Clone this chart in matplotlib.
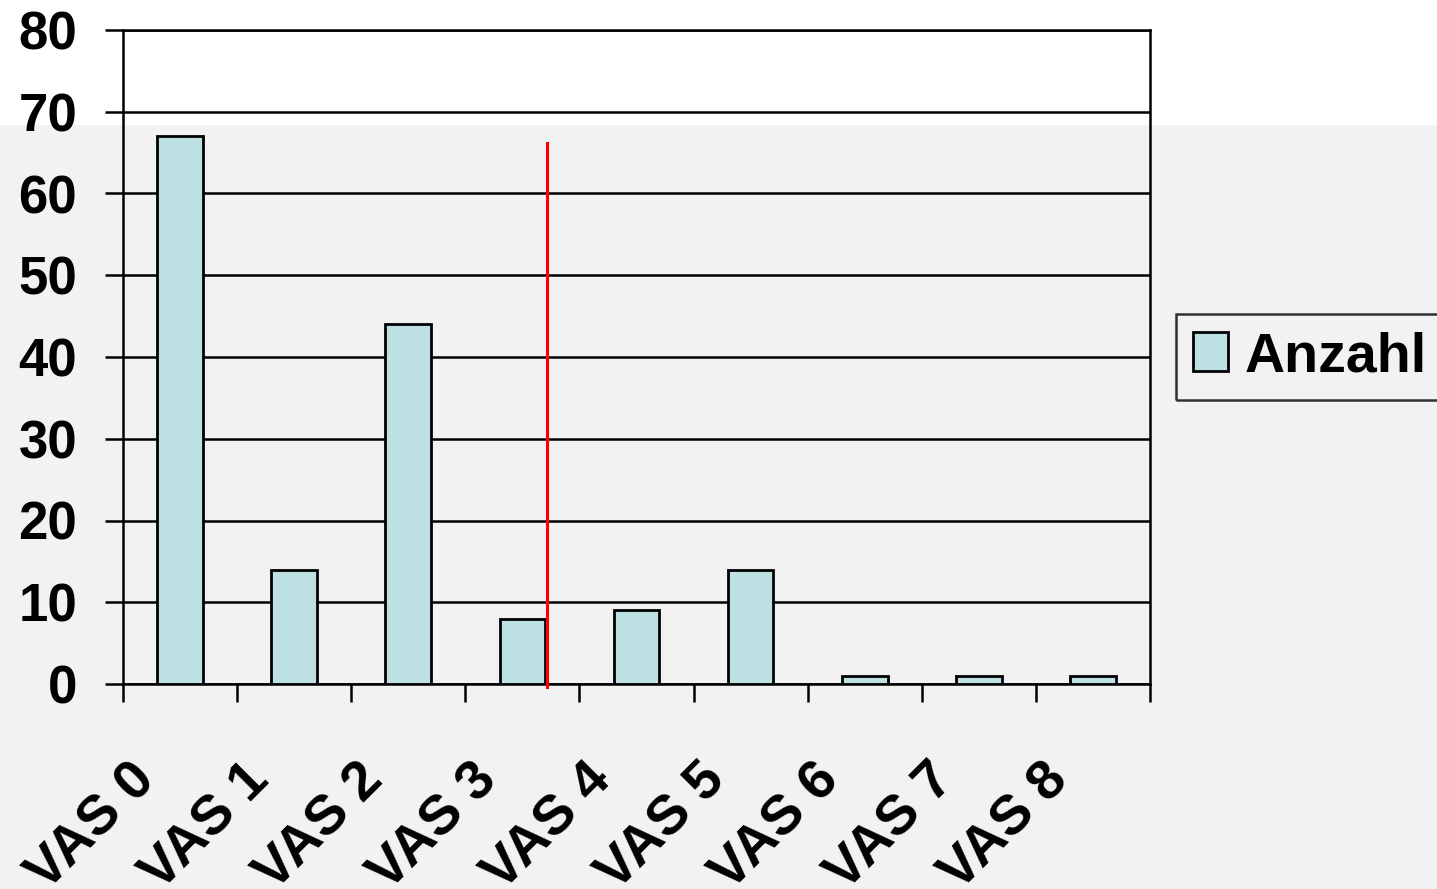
import matplotlib.pyplot as plt
import matplotlib.patches as mpatches
import matplotlib.transforms as mtransforms
import numpy as np

categories = ['VAS 0', 'VAS 1', 'VAS 2', 'VAS 3', 'VAS 4', 'VAS 5', 'VAS 6', 'VAS 7', 'VAS 8']
counts = [67, 14, 44, 8, 9, 14, 1, 1, 1]
series_name = 'Anzahl'
y_ticks = [0, 10, 20, 30, 40, 50, 60, 70, 80]

# red marker line between VAS 3 and VAS 4
marker_x = 3.22
marker_y = (-0.4, 66.2)

plt.rcParams['font.family'] = ['Liberation Sans', 'DejaVu Sans']
plt.rcParams['font.weight'] = 'bold'

fig = plt.figure(figsize=(14.37, 8.89), dpi=100)
fig.patch.set_facecolor('white')

# grey backdrop over the lower part of the figure
fig.patches.append(mpatches.Rectangle((0, 0), 1, (889 - 125) / 889, transform=fig.transFigure,
                                      facecolor='#f2f2f2', edgecolor='none', zorder=-10))

ax = fig.add_axes([123 / 1437, 1 - 684 / 889, (1150 - 123) / 1437, (684 - 30) / 889])
ax.set_facecolor('none')

x = np.arange(len(categories))
ax.bar(x, counts, width=0.4, color='#bde0e3', edgecolor='black', linewidth=2, zorder=3, label=series_name)
ax.plot([marker_x, marker_x], marker_y, color='red', linewidth=2.2, zorder=4, clip_on=False)

ax.set_xlim(-0.5, len(categories) - 0.5)
ax.set_ylim(0, 80)
ax.set_yticks(y_ticks)
ax.set_yticklabels([str(v) for v in y_ticks])
ax.yaxis.grid(True, color='black', linewidth=1.8, zorder=1)
ax.set_axisbelow(True)

ax.set_xticks(np.arange(len(categories) + 1) - 0.5)
ax.set_xticklabels([])
ax.tick_params(axis='x', which='major', direction='out', length=13, width=1.8, color='black')
ax.tick_params(axis='y', direction='out', length=13, width=1.8, color='black', labelsize=38, pad=20)

# rotated category labels, right end sits left of and below each category centre
shift = mtransforms.ScaledTranslation(-0.33, -0.88, fig.dpi_scale_trans)
label_tf = mtransforms.blended_transform_factory(ax.transData, ax.transAxes) + shift
for i, name in enumerate(categories):
    ax.text(i, 0, name, transform=label_tf, rotation=45, rotation_mode='anchor',
            ha='right', va='center', fontsize=40, fontweight='bold', clip_on=False)

for s in ['left', 'right', 'bottom', 'top']:
    ax.spines[s].set_color('black')
    ax.spines[s].set_linewidth(1.8)

leg = ax.legend(loc='center left', bbox_to_anchor=(1176 / 1437, 1 - 357 / 889), bbox_transform=fig.transFigure,
                fontsize=40, frameon=True, fancybox=False, edgecolor='black', facecolor='none',
                handlelength=0.63, handleheight=0.68, handletextpad=0.3, borderpad=0.3, borderaxespad=0)
leg.get_frame().set_linewidth(1.8)
for t in leg.get_texts():
    t.set_fontweight('bold')

fig.savefig('out.png', dpi=100)
